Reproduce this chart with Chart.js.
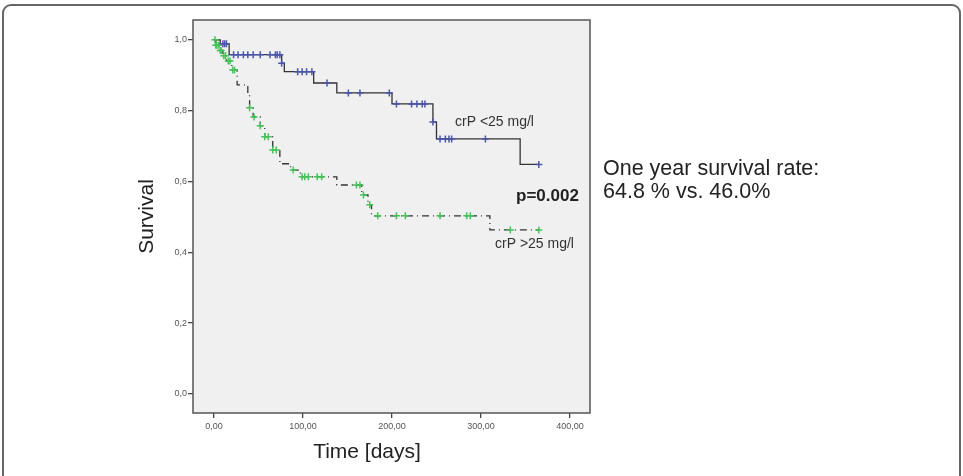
<!DOCTYPE html>
<html>
<head>
<meta charset="utf-8">
<script src="https://cdn.jsdelivr.net/npm/chart.js@4"></script>
<style>
  body { margin: 0; background: #fff; }
  #frame { position: absolute; left: 2px; top: 4px; width: 955px; height: 500px;
           border: 2px solid #666; border-radius: 9px; }
  #wrap { position: absolute; left: 0; top: 0; width: 963px; height: 476px; }
</style>
</head>
<body>
<div id="frame"></div>
<div id="wrap"><canvas id="kmChart"></canvas></div>
<script>
// Kaplan-Meier steps (days, survival)
const lowTimes = [0, 7, 17, 76, 79, 112, 138, 200, 246, 250, 344, 365];
const lowSurv  = [1.0, 0.989, 0.958, 0.934, 0.910, 0.878, 0.850, 0.819, 0.768, 0.720, 0.648, 0.648];
const lowCensored = [10, 12, 14, 22, 27, 33, 38, 44, 52, 63, 69, 71, 74, 76, 94, 99, 104, 110,
                     127, 151, 164, 197, 205, 222, 228, 234, 237, 246, 254, 260, 264, 267, 305, 365];

const highTimes = [0, 2, 6, 10, 14, 20, 26, 38, 40, 44, 52, 57, 66, 74, 86, 97, 138, 166, 173, 177, 310, 365];
const highSurv  = [1.0, 0.985, 0.970, 0.955, 0.940, 0.915, 0.873, 0.845, 0.808, 0.782, 0.757, 0.726,
                   0.689, 0.650, 0.632, 0.613, 0.590, 0.562, 0.534, 0.503, 0.463, 0.463];
const highCensored = [1, 2, 3, 5, 7, 8, 11, 13, 16, 18, 21, 23, 40, 45, 52, 57, 61, 66, 70, 89,
                      99, 102, 106, 116, 121, 160, 164, 168, 175, 184, 205, 215, 254, 284, 288, 333, 365];

const xTicks = [0, 100, 200, 300, 400];
const yTicks = [0, 0.2, 0.4, 0.6, 0.8, 1.0];

// survival value of a step curve at time t
function survAt(times, surv, t) {
  let s = surv[0];
  for (let i = 0; i < times.length; i++) {
    if (times[i] <= t) s = surv[i];
  }
  return s;
}

const stepPoints = (times, surv) => times.map((t, i) => ({ x: t, y: surv[i] }));
const censorPoints = (cens, times, surv) => cens.map(t => ({ x: t, y: survAt(times, surv, t) }));

const BLUE = '#4b55aa';
const GREEN = '#45c35a';
const FONT = '"Liberation Sans", Arial, sans-serif';

const decor = {
  id: 'decor',
  beforeDraw(chart) {
    const { ctx, chartArea: a } = chart;
    ctx.save();
    ctx.fillStyle = '#f0f0f0';
    ctx.fillRect(a.left, a.top, a.right - a.left, a.bottom - a.top);
    ctx.restore();
  },
  afterDraw(chart) {
    const { ctx, chartArea: a } = chart;
    ctx.save();
    ctx.strokeStyle = '#555';
    ctx.lineWidth = 1.5;
    ctx.strokeRect(a.left, a.top, a.right - a.left, a.bottom - a.top);

    ctx.fillStyle = '#222';
    ctx.textBaseline = 'middle';
    ctx.textAlign = 'center';
    ctx.font = '21px ' + FONT;
    ctx.fillText('Time [days]', 367, 452);

    ctx.textAlign = 'left';
    ctx.font = '14px ' + FONT;
    ctx.fillStyle = '#333';
    ctx.fillText('crP <25 mg/l', 455, 122);
    ctx.fillText('crP >25 mg/l', 495, 244);

    ctx.font = 'bold 17px ' + FONT;
    ctx.fillStyle = '#222';
    ctx.fillText('p=0.002', 516, 196);

    ctx.textBaseline = 'alphabetic';
    ctx.font = '21.5px ' + FONT;
    ctx.fillText('One year survival rate:', 603, 175);
    ctx.fillText('64.8 % vs. 46.0%', 603, 198);
    ctx.restore();
  }
};

const ctx = document.getElementById('kmChart').getContext('2d');
new Chart(ctx, {
  type: 'line',
  data: {
    datasets: [
      {
        label: 'crP <25 censored',
        data: censorPoints(lowCensored, lowTimes, lowSurv),
        showLine: false,
        pointStyle: 'cross',
        pointRadius: 3.5,
        pointBorderWidth: 1.5,
        borderColor: BLUE,
        order: 0
      },
      {
        label: 'crP >25 censored',
        data: censorPoints(highCensored, highTimes, highSurv),
        showLine: false,
        pointStyle: 'cross',
        pointRadius: 3.5,
        pointBorderWidth: 1.5,
        borderColor: GREEN,
        order: 0
      },
      {
        label: 'crP <25 mg/l',
        data: stepPoints(lowTimes, lowSurv),
        stepped: 'before',
        borderColor: '#333',
        borderWidth: 1.3,
        pointRadius: 0,
        order: 1
      },
      {
        label: 'crP >25 mg/l',
        data: stepPoints(highTimes, highSurv),
        stepped: 'before',
        borderColor: '#333',
        borderWidth: 1.3,
        borderDash: [7, 4, 1, 4],
        pointRadius: 0,
        order: 1
      }
    ]
  },
  options: {
    responsive: true,
    maintainAspectRatio: false,
    animation: false,
    layout: { padding: { left: 131, right: 373, top: 20, bottom: 8 } },
    plugins: {
      legend: { display: false },
      tooltip: { enabled: false }
    },
    scales: {
      x: {
        type: 'linear',
        min: -23.6,
        max: 422.5,
        afterBuildTicks: s => { s.ticks = xTicks.map(v => ({ value: v })); },
        afterFit: s => { s.height = 55; },
        grid: { drawOnChartArea: false, tickLength: 5, color: '#444', lineWidth: 1.3 },
        border: { display: false },
        ticks: {
          padding: 3,
          color: '#555',
          font: { size: 9, family: FONT },
          callback: v => v.toFixed(2).replace('.', ',')
        }
      },
      y: {
        min: -0.054,
        max: 1.056,
        afterBuildTicks: s => { s.ticks = yTicks.map(v => ({ value: v })); },
        afterFit: s => { s.width = 62; },
        grid: { drawOnChartArea: false, tickLength: 5, color: '#444', lineWidth: 1.3 },
        border: { display: false },
        title: {
          display: true,
          text: 'Survival',
          color: '#222',
          padding: { top: 4, bottom: 0 },
          font: { size: 21, family: FONT }
        },
        ticks: {
          padding: 1,
          color: '#555',
          font: { size: 9, family: FONT },
          callback: v => v.toFixed(1).replace('.', ',')
        }
      }
    }
  },
  plugins: [decor]
});
</script>
</body>
</html>
